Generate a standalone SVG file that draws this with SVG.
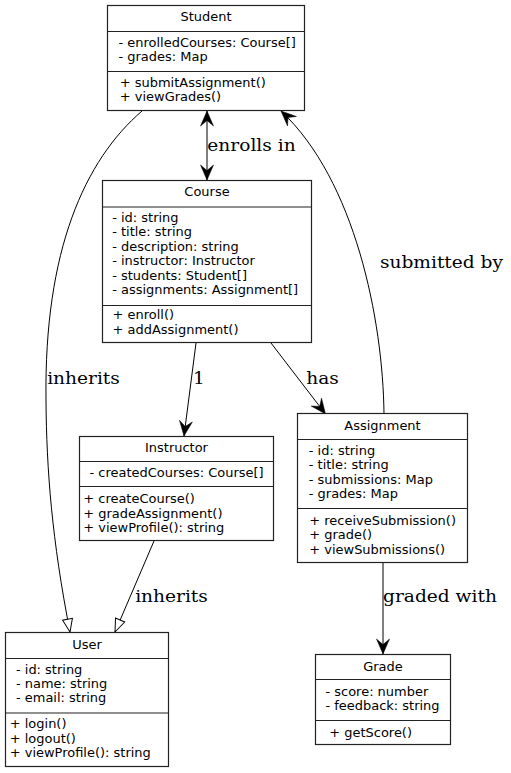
<svg xmlns="http://www.w3.org/2000/svg" width="511" height="773" viewBox="0 0 511 773">
<style>
.box{fill:#fff;stroke:#222;stroke-width:1.2}
.sep{stroke:#222;stroke-width:1.2}
.t{font-family:"DejaVu Sans","Liberation Sans",sans-serif;font-size:11.8px;fill:#000}
.c{text-anchor:middle}
.lbl{font-family:"DejaVu Serif","Liberation Serif",serif;font-size:16.9px;fill:#000;text-anchor:middle}
.e{fill:none;stroke:#000;stroke-width:1}
</style>
<defs>
<marker id="vee" markerUnits="userSpaceOnUse" markerWidth="16" markerHeight="14" refX="15" refY="7" orient="auto-start-reverse" overflow="visible">
<path d="M15,7 L0,0.5 L5.5,7 L0,13.5 Z" fill="#000" stroke="#000" stroke-width="0.5" stroke-linejoin="miter"/>
</marker>
<marker id="tri" markerUnits="userSpaceOnUse" markerWidth="14" markerHeight="12" refX="13" refY="6" orient="auto" overflow="visible">
<path d="M13,6 L0,1 L0,11 Z" fill="#fff" stroke="#000" stroke-width="1"/>
</marker>
</defs>
<rect width="511" height="773" fill="#fff"/>
<g id="connectors">
<path class="e" d="M207,111 L207,180" marker-start="url(#vee)" marker-end="url(#vee)"/>
<path class="e" d="M142,111 C85,160 44,250 46,400 C46.5,470 52,540 70,632" marker-end="url(#tri)"/>
<path class="e" d="M154,541 L115,632" marker-end="url(#tri)"/>
<path class="e" d="M196,343 L184,436" marker-end="url(#vee)"/>
<path class="e" d="M271,343 L325.5,414" marker-end="url(#vee)"/>
<path class="e" d="M384,414 C383,320 355,180 281,111" marker-end="url(#vee)"/>
<path class="e" d="M383,563 L383,654" marker-end="url(#vee)"/>
<g transform="scale(1.1,1)">
<text class="lbl" x="228.64" y="151">enrolls in</text>
<text class="lbl" x="401.36" y="268">submitted by</text>
<text class="lbl" x="75.91" y="384">inherits</text>
<text class="lbl" x="180.91" y="384">1</text>
<text class="lbl" x="293.18" y="384">has</text>
<text class="lbl" x="155.91" y="602">inherits</text>
<text class="lbl" x="400" y="602">graded with</text>
</g>
</g>
<g id="Student">
<rect class="box" x="107.5" y="5.5" width="197" height="105"/>
<line class="sep" x1="107.5" y1="31.5" x2="304.5" y2="31.5"/>
<line class="sep" x1="107.5" y1="71.5" x2="304.5" y2="71.5"/>
<g transform="scale(1.1,1)">
<text class="t c" x="187.27" y="21.5">Student</text>
<text class="t" x="107.73" y="47">- enrolledCourses: Course[]</text>
<text class="t" x="107.73" y="61.5">- grades: Map</text>
<text class="t" x="108.91" y="87">+ submitAssignment()</text>
<text class="t" x="108.91" y="101.5">+ viewGrades()</text>
</g>
</g>
<g id="Course">
<rect class="box" x="102.5" y="180.5" width="209" height="162"/>
<line class="sep" x1="102.5" y1="207" x2="311.5" y2="207"/>
<line class="sep" x1="102.5" y1="305.5" x2="311.5" y2="305.5"/>
<g transform="scale(1.1,1)">
<text class="t c" x="188.18" y="196.5">Course</text>
<text class="t" x="102" y="222">- id: string</text>
<text class="t" x="102" y="236.5">- title: string</text>
<text class="t" x="102" y="251">- description: string</text>
<text class="t" x="102" y="265.5">- instructor: Instructor</text>
<text class="t" x="102" y="280">- students: Student[]</text>
<text class="t" x="102" y="294.5">- assignments: Assignment[]</text>
<text class="t" x="102.36" y="319.5">+ enroll()</text>
<text class="t" x="102.36" y="334">+ addAssignment()</text>
</g>
</g>
<g id="Instructor">
<rect class="box" x="79.5" y="436.5" width="194" height="104"/>
<line class="sep" x1="79.5" y1="461.5" x2="273.5" y2="461.5"/>
<line class="sep" x1="79.5" y1="486.5" x2="273.5" y2="486.5"/>
<g transform="scale(1.1,1)">
<text class="t c" x="160.45" y="452">Instructor</text>
<text class="t" x="81.36" y="477">- createdCourses: Course[]</text>
<text class="t" x="75.73" y="503.5">+ createCourse()</text>
<text class="t" x="75.73" y="518">+ gradeAssignment()</text>
<text class="t" x="75.73" y="532.3">+ viewProfile(): string</text>
</g>
</g>
<g id="Assignment">
<rect class="box" x="297.5" y="413.5" width="170" height="149"/>
<line class="sep" x1="297.5" y1="439.5" x2="467.5" y2="439.5"/>
<line class="sep" x1="297.5" y1="508.5" x2="467.5" y2="508.5"/>
<g transform="scale(1.1,1)">
<text class="t c" x="347.73" y="430">Assignment</text>
<text class="t" x="280.73" y="455">- id: string</text>
<text class="t" x="280.73" y="469.5">- title: string</text>
<text class="t" x="280.73" y="484">- submissions: Map</text>
<text class="t" x="280.73" y="498.5">- grades: Map</text>
<text class="t" x="281.18" y="525">+ receiveSubmission()</text>
<text class="t" x="281.18" y="539.5">+ grade()</text>
<text class="t" x="281.18" y="554">+ viewSubmissions()</text>
</g>
</g>
<g id="User">
<rect class="box" x="5.5" y="632.5" width="163" height="134"/>
<line class="sep" x1="5.5" y1="658.5" x2="168.5" y2="658.5"/>
<line class="sep" x1="5.5" y1="713" x2="168.5" y2="713"/>
<g transform="scale(1.1,1)">
<text class="t c" x="79.09" y="649">User</text>
<text class="t" x="14.55" y="673.7">- id: string</text>
<text class="t" x="14.55" y="688.3">- name: string</text>
<text class="t" x="14.55" y="702.5">- email: string</text>
<text class="t" x="8.9" y="728.3">+ login()</text>
<text class="t" x="8.9" y="742.7">+ logout()</text>
<text class="t" x="8.9" y="757.5">+ viewProfile(): string</text>
</g>
</g>
<g id="Grade">
<rect class="box" x="315.5" y="654.5" width="135" height="90"/>
<line class="sep" x1="315.5" y1="679.5" x2="450.5" y2="679.5"/>
<line class="sep" x1="315.5" y1="720.5" x2="450.5" y2="720.5"/>
<g transform="scale(1.1,1)">
<text class="t c" x="348.18" y="671">Grade</text>
<text class="t" x="295.91" y="696">- score: number</text>
<text class="t" x="295.91" y="710.3">- feedback: string</text>
<text class="t" x="299.36" y="736.7">+ getScore()</text>
</g>
</g>
</svg>
